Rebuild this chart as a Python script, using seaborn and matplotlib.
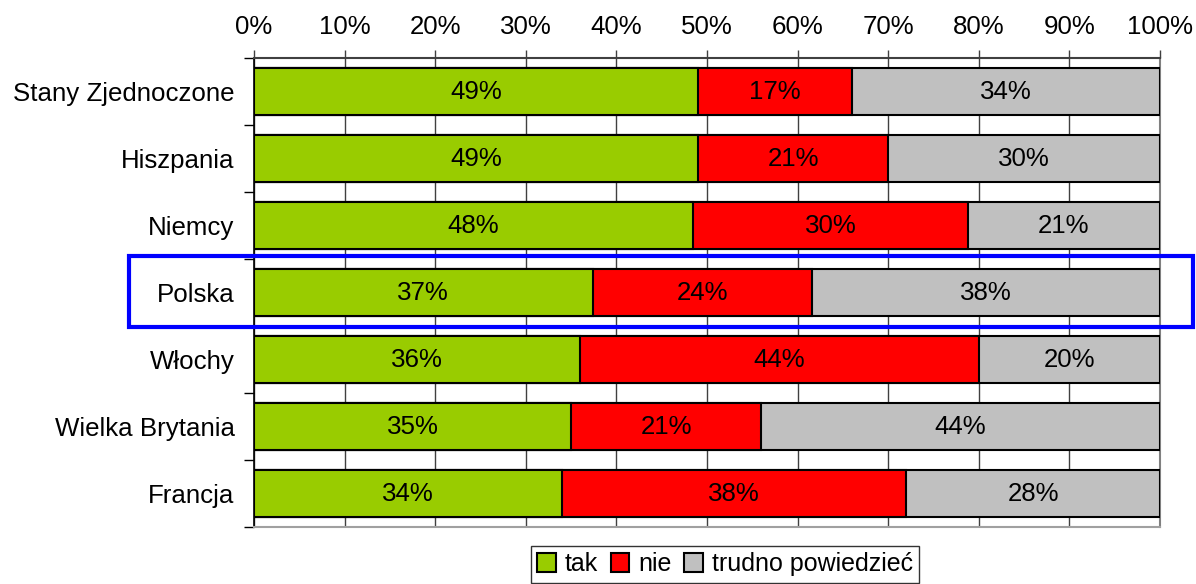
import matplotlib
matplotlib.use("Agg")
import matplotlib.pyplot as plt
from matplotlib.patches import Rectangle, Patch
from matplotlib.ticker import FixedLocator
import seaborn as sns
import pandas as pd
import numpy as np

countries = ["Stany Zjednoczone", "Hiszpania", "Niemcy", "Polska", "Włochy",
             "Wielka Brytania", "Francja"]
tak = [49, 49, 48, 37, 36, 35, 34]
nie = [17, 21, 30, 24, 44, 21, 38]
trudno = [34, 30, 21, 38, 20, 44, 28]
series_names = ["tak", "nie", "trudno powiedzieć"]
colors = ["#99CC00", "#FF0000", "#C0C0C0"]
tick_labels = [f"{v}%" for v in range(0, 101, 10)]

sns.set_style("white")
plt.rcParams["font.family"] = ["Liberation Sans", "DejaVu Sans"]
plt.rcParams["text.color"] = "black"
plt.rcParams["xtick.color"] = "black"
plt.rcParams["ytick.color"] = "black"

raw = np.array([tak, nie, trudno], dtype=float)
share = raw / raw.sum(axis=0) * 100
cum = np.cumsum(share, axis=0)

df = pd.DataFrame({"country": countries,
                   "c1": cum[0], "c2": cum[1], "c3": cum[2]})

fig = plt.figure(figsize=(11.96, 5.84), dpi=100)
ax = fig.add_axes([254/1196, 1-527/584, (1160-254)/1196, (527-58)/584])

FS = 18.6
for col, c in [("c3", colors[2]), ("c2", colors[1]), ("c1", colors[0])]:
    sns.barplot(data=df, x=col, y="country", orient="h", color=c,
                saturation=1, width=0.69, edgecolor="black", linewidth=1.5,
                ax=ax, legend=False, zorder=3)

for i in range(len(countries)):
    starts = [0, cum[0][i], cum[1][i]]
    for k in range(3):
        center = starts[k] + share[k][i] / 2
        ax.text(center, i, f"{int(raw[k][i])}%", ha="center", va="center",
                fontsize=FS, color="black", zorder=5)

ax.set_xlim(0, 100)
ax.set_ylim(len(countries) - 0.5, -0.5)
ax.set_xticks(range(0, 101, 10))
ax.set_xticklabels(tick_labels)
ax.xaxis.tick_top()
ax.tick_params(axis="x", which="major", direction="out", length=6, width=1,
               color="#404040", labelcolor="black", labelsize=FS, pad=8)
ax.set_xlabel("")
ax.set_ylabel("")

ax.yaxis.set_minor_locator(FixedLocator(np.arange(-0.5, len(countries), 1)))
ax.tick_params(axis="y", which="major", length=0, labelsize=FS, pad=14,
               labelcolor="black")
ax.tick_params(axis="y", which="minor", left=True, length=7, width=1,
               color="black", direction="out")

ax.grid(axis="x", color="#404040", linewidth=1, zorder=0)
ax.grid(axis="y", visible=False)
ax.set_axisbelow(True)

ax.spines["top"].set_color("#404040")
ax.spines["top"].set_linewidth(1.5)
ax.spines["bottom"].set_color("#A0A0A0")
ax.spines["bottom"].set_linewidth(1.5)
ax.spines["right"].set_color("#808080")
ax.spines["right"].set_linewidth(1.5)
ax.spines["left"].set_color("black")
ax.spines["left"].set_linewidth(1.2)

handles = [Patch(facecolor=colors[k], edgecolor="black", linewidth=1.5,
                 label=series_names[k]) for k in range(3)]
leg = fig.legend(handles=handles, loc="upper center",
                 bbox_to_anchor=(725/1196, 1-546/584), ncol=3, fontsize=18,
                 frameon=True, fancybox=False, edgecolor="black",
                 handlelength=0.75, handleheight=0.75, handletextpad=0.35,
                 columnspacing=0.5, borderpad=0.25, borderaxespad=0)
leg.get_frame().set_linewidth(1.0)

fig.add_artist(Rectangle((129/1196, 1-327/584), (1193-129)/1196, (327-256)/584,
                         transform=fig.transFigure, fill=False,
                         edgecolor="#0000FF", linewidth=3, zorder=10))

fig.savefig("out.png", dpi=100)
